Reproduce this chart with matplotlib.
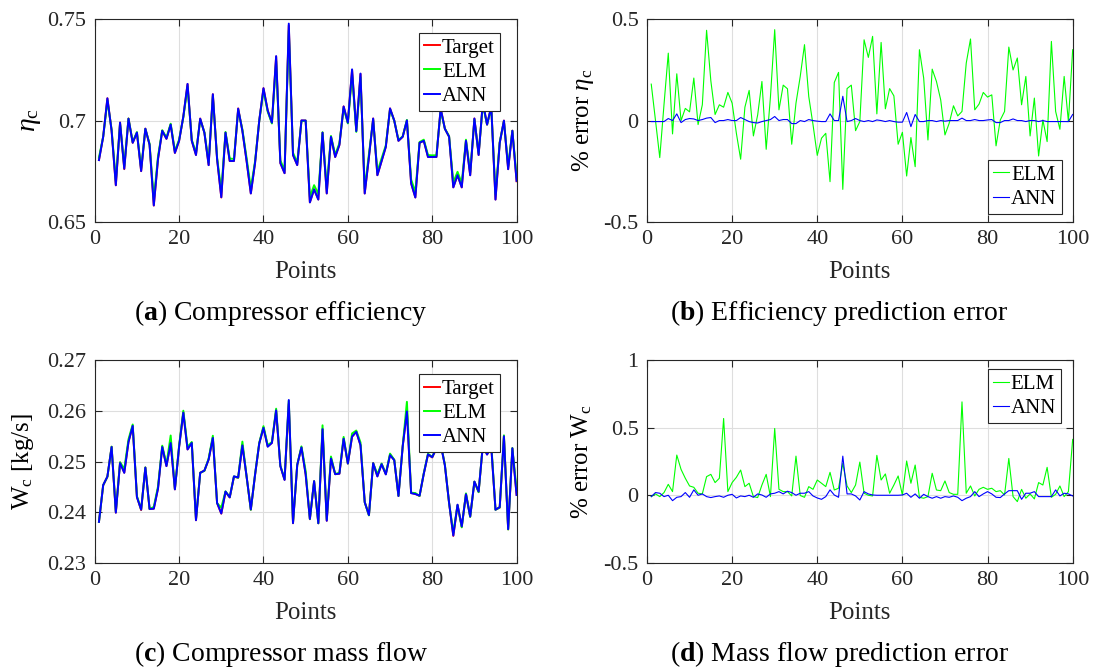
import matplotlib
matplotlib.use('Agg')
import matplotlib.pyplot as plt
import numpy as np

plt.rcParams['font.family'] = ['Liberation Serif', 'DejaVu Serif']
plt.rcParams['mathtext.fontset'] = 'custom'
plt.rcParams['mathtext.rm'] = 'Liberation Serif'
plt.rcParams['mathtext.it'] = 'Liberation Serif:italic'
plt.rcParams['mathtext.bf'] = 'Liberation Serif:bold'
plt.rcParams['axes.unicode_minus'] = False

points = np.arange(1, 101)

# compressor efficiency (target) and % errors of the two models
eta_target = [0.6805, 0.692, 0.711, 0.695, 0.668, 0.699, 0.676, 0.701, 0.689, 0.694,
              0.675, 0.696, 0.688, 0.658, 0.681, 0.695, 0.691, 0.698, 0.684, 0.690,
              0.702, 0.718, 0.690, 0.683, 0.701, 0.694, 0.678, 0.713, 0.681, 0.662,
              0.694, 0.680, 0.680, 0.706, 0.695, 0.680, 0.664, 0.679, 0.700, 0.716,
              0.705, 0.699, 0.7316, 0.679, 0.674, 0.747, 0.683, 0.678, 0.700, 0.700,
              0.6596, 0.666, 0.661, 0.694, 0.664, 0.692, 0.682, 0.688, 0.707, 0.699,
              0.725, 0.695, 0.723, 0.664, 0.682, 0.701, 0.673, 0.680, 0.687, 0.706,
              0.700, 0.690, 0.692, 0.700, 0.669, 0.662, 0.689, 0.690, 0.682, 0.682,
              0.682, 0.706, 0.696, 0.692, 0.667, 0.673, 0.667, 0.690, 0.673, 0.701,
              0.683, 0.709, 0.698, 0.707, 0.661, 0.689, 0.700, 0.676, 0.695, 0.670]
eta_elm_err = [0.18, 0.0, -0.183, 0.08, 0.333, -0.066, 0.231, 0.0, 0.06, 0.043,
               0.21, -0.02, 0.078, 0.446, 0.196, 0.03, 0.078, 0.066, 0.139, 0.086,
               -0.063, -0.191, 0.066, 0.149, -0.076, 0.028, 0.193, -0.142, 0.116, 0.449,
               0.053, 0.175, 0.157, -0.117, 0.086, 0.218, 0.375, 0.119, -0.02, -0.172,
               -0.087, -0.063, -0.302, 0.188, 0.238, -0.34, 0.158, 0.175, -0.05, -0.005,
               0.399, 0.312, 0.416, 0.033, 0.386, 0.058, 0.158, 0.122, -0.117, -0.058,
               -0.274, -0.084, -0.228, 0.35, 0.21, -0.096, 0.254, 0.193, 0.102, -0.071,
               -0.013, 0.073, 0.023, 0.045, 0.284, 0.403, 0.053, 0.081, 0.139, 0.116,
               0.127, -0.125, 0.003, 0.045, 0.363, 0.25, 0.309, 0.078, 0.218, -0.076,
               0.111, -0.175, 0.003, -0.104, 0.391, 0.045, -0.043, 0.218, -0.005, 0.35]
eta_ann_err = [-0.005, -0.005, -0.005, -0.005, 0.01, 0.0, 0.033, -0.01, 0.005, 0.01,
               0.008, 0.0, 0.005, 0.012, 0.015, -0.01, 0.0, 0.0, 0.005, 0.0,
               0.0, 0.015, 0.005, -0.005, -0.01, -0.012, -0.005, 0.0, 0.005, 0.02,
               0.0, 0.005, 0.005, -0.015, -0.015, 0.0, -0.005, 0.005, 0.0, -0.003,
               -0.005, -0.005, 0.033, 0.0, 0.0, 0.12, -0.005, 0.0, 0.01, 0.0,
               -0.005, 0.0, -0.005, 0.003, 0.0, -0.005, 0.0, -0.005, -0.008, -0.008,
               0.04, -0.03, 0.03, -0.005, -0.005, 0.0, 0.0, -0.005, 0.0, -0.003,
               0.0, 0.0, 0.0, 0.012, 0.0, 0.0, 0.005, 0.0, 0.0, 0.003,
               0.005, -0.01, -0.01, 0.0, 0.0, 0.008, 0.0, 0.0, -0.005, 0.0,
               0.0, -0.005, 0.0, -0.005, -0.005, -0.005, -0.005, -0.005, -0.005, 0.03]

# compressor mass flow (target) and % errors
w_target = [0.2381, 0.2453, 0.2470, 0.2529, 0.2399, 0.2498, 0.2478, 0.2539, 0.2570, 0.2430,
            0.2404, 0.2488, 0.2406, 0.2407, 0.2447, 0.2529, 0.2491, 0.2537, 0.2445, 0.2529,
            0.2597, 0.2524, 0.2537, 0.2384, 0.2478, 0.2482, 0.2504, 0.2547, 0.2418, 0.2397,
            0.2440, 0.2429, 0.2470, 0.2468, 0.2532, 0.2470, 0.2405, 0.2473, 0.2536, 0.2567,
            0.2530, 0.2537, 0.2600, 0.2491, 0.2464, 0.2614, 0.2378, 0.2493, 0.2528, 0.2475,
            0.2386, 0.2461, 0.2378, 0.2564, 0.2383, 0.2506, 0.2475, 0.2476, 0.2545, 0.2496,
            0.2549, 0.2559, 0.2532, 0.2420, 0.2394, 0.2497, 0.2471, 0.2495, 0.2475, 0.2513,
            0.2503, 0.2432, 0.2530, 0.2600, 0.2438, 0.2436, 0.2432, 0.2476, 0.2514, 0.2508,
            0.2526, 0.2535, 0.2493, 0.2418, 0.2353, 0.2414, 0.2371, 0.2436, 0.2391, 0.2460,
            0.2440, 0.2532, 0.2514, 0.2529, 0.2405, 0.2409, 0.2550, 0.2366, 0.2526, 0.2434]
w_elm_err = [-0.01, 0.01, -0.01, 0.02, 0.081, 0.027, 0.298, 0.192, 0.126, 0.069,
             0.059, 0.015, 0.01, 0.138, 0.155, 0.094, 0.126, 0.569, 0.027, 0.094,
             0.133, 0.187, 0.064, 0.089, -0.01, -0.017, 0.076, 0.155, -0.01, 0.495,
             0.044, 0.027, 0.027, -0.005, 0.29, -0.002, -0.015, 0.064, 0.044, 0.113,
             0.089, 0.064, 0.17, 0.039, 0.052, 0.236, 0.069, 0.02, 0.076, 0.246,
             0.015, 0.0, -0.005, 0.296, 0.113, 0.158, 0.015, 0.076, 0.143, 0.002,
             0.254, 0.089, 0.224, -0.015, -0.022, -0.01, 0.163, 0.039, 0.034, 0.106,
             0.02, 0.007, 0.007, 0.692, 0.015, 0.069, -0.005, 0.044, 0.059, 0.044,
             0.052, 0.027, 0.034, 0.002, 0.273, -0.01, -0.047, 0.044, -0.022, 0.01,
             -0.027, 0.094, 0.076, 0.207, -0.015, 0.007, 0.069, -0.01, 0.027, 0.414]
w_ann_err = [-0.01, 0.02, 0.015, -0.01, 0.0, -0.04, -0.015, -0.01, 0.02, -0.015,
             0.04, 0.0, 0.01, -0.01, -0.017, -0.01, -0.005, -0.015, 0.0, 0.007,
             -0.02, -0.005, -0.01, 0.0, -0.015, 0.01, 0.002, -0.015, 0.01, 0.015,
             0.027, 0.01, 0.03, 0.02, 0.0, 0.015, 0.015, 0.027, -0.005, -0.02,
             -0.03, -0.01, 0.04, 0.002, -0.015, 0.29, 0.01, 0.01, -0.005, -0.035,
             0.027, 0.01, 0.002, 0.0, 0.0, 0.0, 0.0, 0.0, 0.0, 0.002,
             0.015, -0.015, 0.01, -0.022, 0.007, -0.01, -0.022, -0.01, -0.022, -0.01,
             -0.015, -0.005, -0.015, -0.04, -0.022, -0.01, 0.027, -0.01, 0.01, 0.027,
             0.01, -0.015, -0.017, 0.01, 0.034, 0.034, 0.034, -0.03, 0.015, 0.015,
             0.027, -0.01, -0.01, -0.01, -0.01, 0.04, -0.005, 0.015, 0.01, -0.005]

# model outputs follow from target and the % error (b), (d)
eta_elm = np.array(eta_target) * (1 + np.array(eta_elm_err) / 100)
eta_ann = np.array(eta_target) * (1 + np.array(eta_ann_err) / 100)
w_elm = np.array(w_target) * (1 + np.array(w_elm_err) / 100)
w_ann = np.array(w_target) * (1 + np.array(w_ann_err) / 100)

RED = (1, 0, 0)
GREEN = (0, 1, 0)
BLUE = (0, 0, 1)
DARK = (0.15, 0.15, 0.15)


def style(ax, yticks, yticklabels, ylim):
    ax.set_xlim(0, 100)
    ax.set_xticks([0, 20, 40, 60, 80, 100])
    ax.set_ylim(*ylim)
    ax.set_yticks(yticks)
    ax.set_yticklabels(yticklabels)
    ax.tick_params(direction='in', top=True, right=True, length=5, width=0.8,
                   labelsize=16, colors=DARK, labelcolor=DARK, pad=6)
    for s in ax.spines.values():
        s.set_color(DARK)
        s.set_linewidth(0.8)
    ax.grid(True, color=(0.87, 0.87, 0.87), linewidth=0.8)
    ax.set_axisbelow(True)
    ax.set_xlabel('Points', fontsize=18, va='center', color=DARK)
    ax.xaxis.set_label_coords(0.5, -0.247)


def legend(ax, loc, anchor):
    lg = ax.legend(loc=loc, bbox_to_anchor=anchor, borderaxespad=0, fontsize=15,
                   handlelength=0.75, handletextpad=0.1, labelspacing=0.22,
                   borderpad=0.25, fancybox=False, framealpha=1, edgecolor=DARK)
    lg.get_frame().set_linewidth(0.8)


fig = plt.figure(figsize=(10.94, 6.72), dpi=100)
ax_a = fig.add_axes([0.0866, 0.670, 0.3856, 0.3012])
ax_b = fig.add_axes([0.5914, 0.670, 0.3891, 0.3012])
ax_c = fig.add_axes([0.0866, 0.1626, 0.3856, 0.3012])
ax_d = fig.add_axes([0.5914, 0.1626, 0.3891, 0.3012])

# (a)
ax_a.plot(points, eta_target, color=RED, lw=1.4, label='Target')
ax_a.plot(points, eta_elm, color=GREEN, lw=1.4, label='ELM')
ax_a.plot(points, eta_ann, color=BLUE, lw=1.4, label='ANN')
style(ax_a, [0.65, 0.7, 0.75], ['0.65', '0.7', '0.75'], (0.65, 0.75))
ax_a.set_ylabel(r'$\eta_{\mathrm{c}}$', fontsize=20, va='center')
ax_a.yaxis.set_label_coords(-0.153, 0.5)
legend(ax_a, 'upper right', (0.961, 0.934))

# (b)
ax_b.plot(points, eta_elm_err, color=GREEN, lw=0.8, label='ELM')
ax_b.plot(points, eta_ann_err, color=BLUE, lw=0.8, label='ANN')
style(ax_b, [-0.5, 0, 0.5], ['-0.5', '0', '0.5'], (-0.5, 0.5))
ax_b.set_ylabel(r'% error $\eta_{\mathrm{c}}$', fontsize=18, va='center')
ax_b.yaxis.set_label_coords(-0.150, 0.5)
legend(ax_b, 'lower right', (0.974, 0.038))

# (c)
ax_c.plot(points, w_target, color=RED, lw=1.4, label='Target')
ax_c.plot(points, w_elm, color=GREEN, lw=1.4, label='ELM')
ax_c.plot(points, w_ann, color=BLUE, lw=1.4, label='ANN')
style(ax_c, [0.23, 0.24, 0.25, 0.26, 0.27], ['0.23', '0.24', '0.25', '0.26', '0.27'], (0.23, 0.27))
ax_c.set_ylabel(r'W$_{\mathrm{c}}$ [kg/s]', fontsize=18, va='center')
ax_c.yaxis.set_label_coords(-0.17, 0.5)
legend(ax_c, 'upper right', (0.961, 0.932))

# (d)
ax_d.plot(points, w_elm_err, color=GREEN, lw=0.8, label='ELM')
ax_d.plot(points, w_ann_err, color=BLUE, lw=0.8, label='ANN')
style(ax_d, [-0.5, 0, 0.5, 1], ['-0.5', '0', '0.5', '1'], (-0.5, 1))
ax_d.set_ylabel(r'% error W$_{\mathrm{c}}$', fontsize=18, va='center')
ax_d.yaxis.set_label_coords(-0.153, 0.5)
legend(ax_d, 'upper right', (0.973, 0.957))

# captions
fig.text(281 / 1094, 1 - 313 / 672, r'($\mathbf{a}$) Compressor efficiency', fontsize=20, ha='center', va='center')
fig.text(839 / 1094, 1 - 313 / 672, r'($\mathbf{b}$) Efficiency prediction error', fontsize=20, ha='center', va='center')
fig.text(281 / 1094, 1 - 654 / 672, r'($\mathbf{c}$) Compressor mass flow', fontsize=20, ha='center', va='center')
fig.text(840 / 1094, 1 - 654 / 672, r'($\mathbf{d}$) Mass flow prediction error', fontsize=20, ha='center', va='center')

fig.savefig('out.png', dpi=100)
